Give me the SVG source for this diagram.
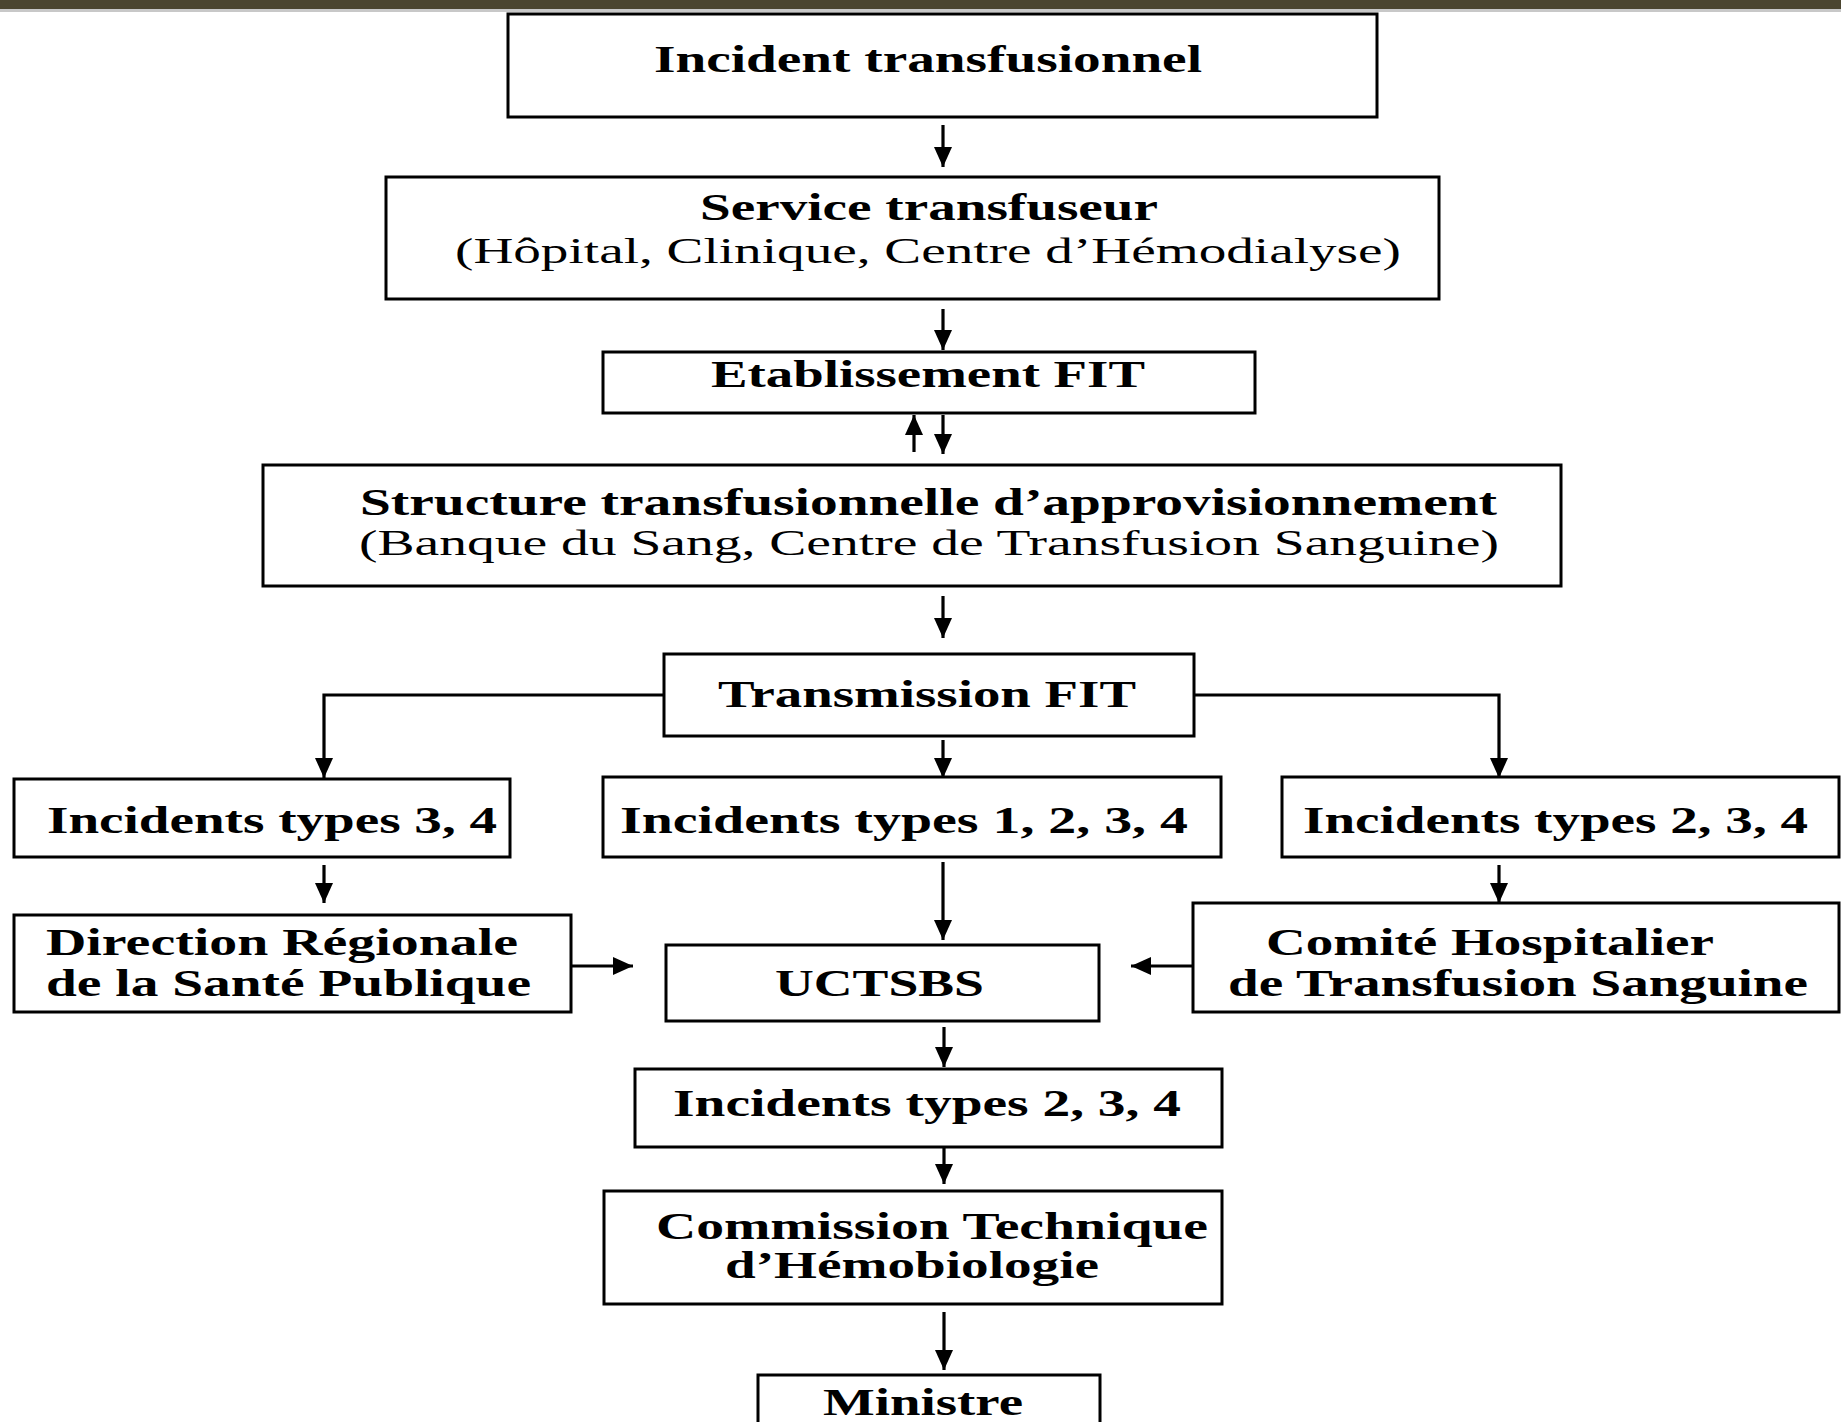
<svg xmlns="http://www.w3.org/2000/svg" width="1841" height="1422" viewBox="0 0 1841 1422">
<style>
.box{fill:#fff;stroke:#000;stroke-width:3}
.b{font-family:"Liberation Serif","Times New Roman",serif;font-weight:bold;font-size:38px;fill:#000}
.r{font-family:"Liberation Serif","Times New Roman",serif;font-weight:normal;font-size:35px;fill:#000}
.c{fill:none;stroke:#000;stroke-width:3.2}
</style>
<defs>
<marker id="ah" viewBox="0 0 20 18" markerWidth="20" markerHeight="18" refX="20" refY="9" orient="auto" markerUnits="userSpaceOnUse">
<path d="M0,0 L20,9 L0,18 z" fill="#000"/>
</marker>
</defs>
<rect width="1841" height="1422" fill="#fff"/>
<rect x="0" y="0" width="1841" height="9" fill="#4b4530"/>
<rect x="0" y="9" width="1841" height="3" fill="#c8c8c8"/>

<g id="connectors">
<line class="c" x1="943" y1="125" x2="943" y2="167" marker-end="url(#ah)"/>
<line class="c" x1="943" y1="309" x2="943" y2="350" marker-end="url(#ah)"/>
<line class="c" x1="914" y1="452" x2="914" y2="415" marker-end="url(#ah)"/>
<line class="c" x1="943" y1="415" x2="943" y2="454" marker-end="url(#ah)"/>
<line class="c" x1="943" y1="596" x2="943" y2="638" marker-end="url(#ah)"/>
<polyline class="c" points="664,695 324,695 324,778" marker-end="url(#ah)"/>
<polyline class="c" points="1194,695 1499,695 1499,778" marker-end="url(#ah)"/>
<line class="c" x1="943" y1="740" x2="943" y2="778" marker-end="url(#ah)"/>
<line class="c" x1="324" y1="865" x2="324" y2="903" marker-end="url(#ah)"/>
<line class="c" x1="1499" y1="865" x2="1499" y2="903" marker-end="url(#ah)"/>
<line class="c" x1="943" y1="862" x2="943" y2="940" marker-end="url(#ah)"/>
<line class="c" x1="571" y1="966" x2="633" y2="966" marker-end="url(#ah)"/>
<line class="c" x1="1193" y1="966" x2="1131" y2="966" marker-end="url(#ah)"/>
<line class="c" x1="944" y1="1027" x2="944" y2="1067" marker-end="url(#ah)"/>
<line class="c" x1="944" y1="1148" x2="944" y2="1184" marker-end="url(#ah)"/>
<line class="c" x1="944" y1="1312" x2="944" y2="1370" marker-end="url(#ah)"/>
</g>

<g id="incident">
<rect class="box" x="508" y="14" width="869" height="103"/>
<text class="b" x="654" y="72" textLength="548" lengthAdjust="spacingAndGlyphs">Incident transfusionnel</text>
</g>

<g id="service">
<rect class="box" x="386" y="177" width="1053" height="122"/>
<text class="b" x="700" y="220" font-size="36" textLength="458" lengthAdjust="spacingAndGlyphs">Service transfuseur</text>
<text class="r" x="455" y="263" textLength="946" lengthAdjust="spacingAndGlyphs">(Hôpital, Clinique, Centre d’Hémodialyse)</text>
</g>

<g id="etablissement">
<rect class="box" x="603" y="352" width="652" height="61"/>
<text class="b" x="711" y="387" textLength="434" lengthAdjust="spacingAndGlyphs">Etablissement FIT</text>
</g>

<g id="structure">
<rect class="box" x="263" y="465" width="1298" height="121"/>
<text class="b" x="360" y="515" textLength="1137" lengthAdjust="spacingAndGlyphs">Structure transfusionnelle d’approvisionnement</text>
<text class="r" x="359" y="555" textLength="1140" lengthAdjust="spacingAndGlyphs">(Banque du Sang, Centre de Transfusion Sanguine)</text>
</g>

<g id="transmission">
<rect class="box" x="664" y="654" width="530" height="82"/>
<text class="b" x="718" y="707" textLength="418" lengthAdjust="spacingAndGlyphs">Transmission FIT</text>
</g>

<g id="types34">
<rect class="box" x="14" y="779" width="496" height="78"/>
<text class="b" x="47" y="833" textLength="450" lengthAdjust="spacingAndGlyphs">Incidents types 3, 4</text>
</g>

<g id="types1234">
<rect class="box" x="603" y="777" width="618" height="80"/>
<text class="b" x="620" y="833" textLength="568" lengthAdjust="spacingAndGlyphs">Incidents types 1, 2, 3, 4</text>
</g>

<g id="types234a">
<rect class="box" x="1282" y="777" width="557" height="80"/>
<text class="b" x="1303" y="833" textLength="505" lengthAdjust="spacingAndGlyphs">Incidents types 2, 3, 4</text>
</g>

<g id="direction">
<rect class="box" x="14" y="915" width="557" height="97"/>
<text class="b" x="46" y="955" textLength="472" lengthAdjust="spacingAndGlyphs">Direction Régionale</text>
<text class="b" x="46" y="996" textLength="485" lengthAdjust="spacingAndGlyphs">de la Santé Publique</text>
</g>

<g id="uctsbs">
<rect class="box" x="666" y="945" width="433" height="76"/>
<text class="b" x="775" y="996" textLength="209" lengthAdjust="spacingAndGlyphs">UCTSBS</text>
</g>

<g id="comite">
<rect class="box" x="1193" y="903" width="646" height="109"/>
<text class="b" x="1266" y="955" textLength="448" lengthAdjust="spacingAndGlyphs">Comité Hospitalier</text>
<text class="b" x="1228" y="996" textLength="580" lengthAdjust="spacingAndGlyphs">de Transfusion Sanguine</text>
</g>

<g id="types234b">
<rect class="box" x="635" y="1069" width="587" height="78"/>
<text class="b" x="673" y="1116" textLength="508" lengthAdjust="spacingAndGlyphs">Incidents types 2, 3, 4</text>
</g>

<g id="commission">
<rect class="box" x="604" y="1191" width="618" height="113"/>
<text class="b" x="656" y="1239" textLength="552" lengthAdjust="spacingAndGlyphs">Commission Technique</text>
<text class="b" x="725" y="1278" textLength="374" lengthAdjust="spacingAndGlyphs">d’Hémobiologie</text>
</g>

<g id="ministre">
<rect class="box" x="758" y="1375" width="342" height="70"/>
<text class="b" x="823" y="1415" textLength="200" lengthAdjust="spacingAndGlyphs">Ministre</text>
</g>
</svg>
